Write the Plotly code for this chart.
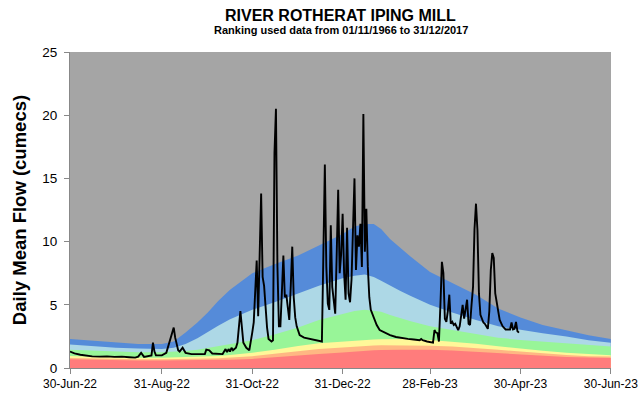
import pandas as pd
import plotly.graph_objects as go

START = pd.Timestamp("2022-06-30")
END = pd.Timestamp("2023-06-30")

# Percentile band boundaries (cumecs), sampled at days since 30-Jun-22
band_day = [0, 15, 31, 46, 62, 70, 78, 86, 93, 100, 108, 116, 123, 138, 154, 168,
            184, 192, 199, 205, 210, 216, 223, 230, 243, 258, 274, 289, 304, 319,
            335, 350, 365]
band_red = [0.70, 0.66, 0.62, 0.60, 0.60, 0.60, 0.61, 0.62, 0.64, 0.65, 0.66, 0.68,
            0.72, 0.85, 1.00, 1.10, 1.22, 1.30, 1.35, 1.40, 1.42, 1.45, 1.45, 1.45,
            1.45, 1.38, 1.28, 1.17, 1.06, 0.96, 0.88, 0.83, 0.80]
band_orange = [0.80, 0.76, 0.72, 0.70, 0.70, 0.70, 0.71, 0.72, 0.75, 0.78, 0.82, 0.87,
               0.93, 1.12, 1.35, 1.50, 1.62, 1.70, 1.75, 1.78, 1.80, 1.80, 1.80, 1.80,
               1.77, 1.70, 1.60, 1.45, 1.30, 1.15, 1.02, 0.93, 0.90]
band_yellow = [0.95, 0.90, 0.85, 0.82, 0.82, 0.84, 0.86, 0.88, 0.90, 0.95, 1.02, 1.10,
               1.20, 1.45, 1.75, 1.95, 2.10, 2.18, 2.22, 2.25, 2.28, 2.30, 2.30, 2.30,
               2.22, 2.08, 1.92, 1.72, 1.52, 1.36, 1.20, 1.08, 1.00]
band_green = [1.45, 1.38, 1.30, 1.25, 1.25, 1.28, 1.35, 1.45, 1.60, 1.75, 1.90, 2.05,
              2.20, 2.65, 3.20, 3.80, 4.30, 4.50, 4.60, 4.55, 4.45, 4.20, 3.95, 3.70,
              3.30, 3.00, 2.65, 2.40, 2.22, 2.10, 1.95, 1.80, 1.70]
band_lightblue = [1.85, 1.70, 1.60, 1.55, 1.50, 1.60, 1.90, 2.35, 2.85, 3.35, 3.85, 4.25,
                  4.60, 5.20, 5.90, 6.50, 7.10, 7.30, 7.40, 7.20, 6.90, 6.50, 6.10, 5.70,
                  5.00, 4.40, 3.80, 3.30, 3.00, 2.75, 2.50, 2.20, 2.00]
band_blue = [2.30, 2.15, 2.00, 1.90, 1.90, 2.10, 2.80, 3.60, 4.40, 5.30, 6.20, 6.90,
             7.50, 8.20, 8.90, 9.70, 10.60, 11.20, 11.40, 11.40, 11.00, 10.20, 9.50, 8.80,
             7.60, 6.70, 5.80, 4.70, 4.00, 3.40, 3.00, 2.60, 2.30]

# Observed daily mean flow (cumecs), days since 30-Jun-22
flow_day = [0, 3, 7, 10, 15, 20, 25, 30, 35, 40, 44, 46, 48, 50, 53, 55, 56, 57, 58,
            62, 65, 67, 69, 70, 71, 73, 74, 76, 78, 82, 87, 91, 92, 94, 96, 100, 103,
            105, 106, 107, 108, 109, 110, 112, 113, 115, 116, 117, 119, 121, 123, 124,
            126, 127, 129, 130, 131, 132, 133, 134, 136, 137, 138, 139, 140, 141, 142,
            143, 144, 145, 146, 147, 148, 149, 150, 151, 152, 153, 155, 158, 162, 166,
            170, 171, 172, 173, 174, 175, 176, 177, 178, 179, 180, 181, 182, 183, 184,
            185, 186, 187, 188, 189, 190, 191, 192, 193, 194, 195, 196, 197, 198, 199,
            200, 201, 202, 203, 205, 207, 209, 212, 216, 220, 224, 228, 232, 236, 237,
            238, 241, 244, 245, 246, 247, 248, 249, 250, 251, 252, 253, 254, 255, 256,
            257, 258, 259, 260, 261, 262, 263, 264, 265, 266, 267, 268, 269, 270, 271,
            272, 273, 274, 275, 276, 277, 279, 280, 282, 283, 284, 285, 286, 287, 288,
            290, 292, 294, 297, 298, 299, 300, 301, 302, 303]
flow_val = [1.30, 1.15, 1.05, 1.00, 0.92, 0.90, 0.92, 0.88, 0.90, 0.85, 0.82, 0.90,
            1.20, 0.88, 0.95, 1.00, 2.00, 1.30, 1.00, 1.00, 1.20, 2.00, 2.80, 3.20,
            2.40, 1.40, 1.30, 1.60, 1.20, 1.10, 1.10, 1.10, 1.45, 1.40, 1.15, 1.10,
            1.10, 1.50, 1.25, 1.50, 1.30, 1.60, 1.40, 1.60, 2.00, 4.50, 3.50, 2.00,
            1.60, 1.40, 2.80, 3.60, 8.50, 4.10, 13.80, 7.20, 6.50, 4.50, 3.20, 2.30,
            2.10, 2.20, 17.00, 20.50, 8.00, 3.30, 3.30, 6.00, 8.90, 5.60, 5.80, 4.80,
            3.80, 6.50, 9.60, 5.60, 4.00, 3.30, 2.60, 2.40, 2.30, 2.20, 2.10, 9.00,
            16.10, 8.00, 5.10, 4.60, 11.30, 6.40, 5.00, 4.30, 9.00, 14.10, 7.50, 9.00,
            12.20, 7.50, 5.40, 11.10, 5.90, 5.20, 7.00, 12.00, 15.00, 7.75, 10.50,
            9.60, 11.40, 8.00, 20.10, 9.20, 12.60, 8.00, 5.60, 4.60, 4.00, 3.40, 3.00,
            2.80, 2.60, 2.45, 2.35, 2.30, 2.25, 2.20, 2.30, 2.20, 2.10, 2.00, 2.00,
            3.00, 2.80, 2.75, 2.10, 5.00, 8.40, 7.50, 3.90, 3.65, 4.50, 5.80, 3.50,
            3.65, 3.40, 3.50, 3.20, 3.00, 3.30, 4.00, 5.00, 3.90, 4.50, 5.40, 3.50,
            3.40, 5.00, 6.40, 11.00, 13.00, 10.90, 5.90, 4.20, 3.60, 3.50, 3.10,
            4.50, 7.75, 9.10, 8.70, 5.90, 5.10, 3.80, 3.30, 3.05, 3.05, 3.60, 3.05,
            3.10, 3.65, 2.90, 2.80]

tick_dates = ["2022-06-30", "2022-08-31", "2022-10-31", "2022-12-31",
              "2023-02-28", "2023-04-30", "2023-06-30"]
tick_text = ["30-Jun-22", "31-Aug-22", "31-Oct-22", "31-Dec-22",
             "28-Feb-23", "30-Apr-23", "30-Jun-23"]

band_x = START + pd.to_timedelta(band_day, unit="D")
flow_x = START + pd.to_timedelta(flow_day, unit="D")

fig = go.Figure()

# Bands drawn widest first so each narrower one sits on top
bands = [
    ("Blue", band_blue, "#558BD9"),
    ("Light blue", band_lightblue, "#ADD8E6"),
    ("Green", band_green, "#98F598"),
    ("Yellow", band_yellow, "#FFF799"),
    ("Orange", band_orange, "#FFB783"),
    ("Red", band_red, "#FF7C7C"),
]
for name, vals, col in bands:
    fig.add_trace(go.Scatter(
        x=band_x, y=vals, name=name, mode="lines",
        line=dict(width=0, color=col), fill="tozeroy", fillcolor=col,
        hoverinfo="skip", showlegend=False,
    ))

fig.add_trace(go.Scatter(
    x=flow_x, y=flow_val, name="Daily mean flow", mode="lines",
    line=dict(color="black", width=1.9), showlegend=False,
))

narrow = "Liberation Sans Narrow, Arial Narrow, Liberation Sans, Arial, sans-serif"

fig.update_layout(
    width=639, height=394,
    margin=dict(l=70, r=28, t=52, b=26),
    paper_bgcolor="white",
    plot_bgcolor="#A5A5A5",
    showlegend=False,
    annotations=[
        dict(text="<b>RIVER ROTHERAT IPING MILL</b>", xref="paper", yref="paper",
             x=0.5, y=1.117, xanchor="center", yanchor="middle", showarrow=False,
             font=dict(family=narrow, size=16, color="black")),
        dict(text="<b>Ranking used data from 01/11/1966 to 31/12/2017</b>",
             xref="paper", yref="paper", x=0.5, y=1.07, xanchor="center",
             yanchor="middle", showarrow=False,
             font=dict(family=narrow, size=11, color="black")),
    ],
)

fig.update_xaxes(
    type="date",
    range=[START, END + pd.Timedelta(hours=3)],
    tickvals=pd.to_datetime(tick_dates), ticktext=tick_text,
    ticks="outside", ticklen=5, tickcolor="#888888",
    showline=True, linecolor="#888888", linewidth=1,
    showgrid=False, zeroline=False, automargin=False,
    tickfont=dict(family=narrow, size=12, color="black"),
)
fig.update_yaxes(
    range=[0, 25], dtick=5,
    ticks="outside", ticklen=5, tickcolor="#888888",
    showline=True, linecolor="#888888", linewidth=1,
    showgrid=False, zeroline=False, automargin=False,
    ticklabelstandoff=4,
    tickfont=dict(family=narrow, size=13.5, color="black"),
    title=dict(text="<b>Daily Mean Flow (cumecs)</b>", standoff=10,
               font=dict(family="Liberation Sans, Arial, sans-serif", size=18.5,
                         color="black")),
)

fig.write_html("out.html")
